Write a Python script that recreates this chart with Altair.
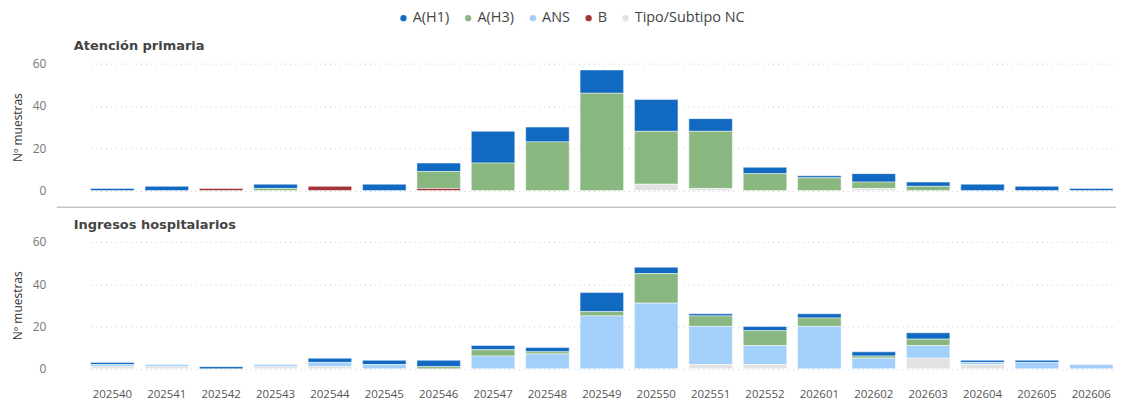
import altair as alt
import pandas as pd

weeks = ["202540", "202541", "202542", "202543", "202544", "202545", "202546",
         "202547", "202548", "202549", "202550", "202551", "202552",
         "202601", "202602", "202603", "202604", "202605", "202606"]

types = ["A(H1)", "A(H3)", "ANS", "B", "Tipo/Subtipo NC"]
colors = ["#1169C1", "#89B780", "#A3D0FA", "#A4363A", "#E2E2E2"]
stack_rank = [4, 3, 2, 1, 0]

panel_titles = ["Atención primaria", "Ingresos hospitalarios"]

# Atención primaria
ap_h1 = [1, 2, 0, 2, 0, 3, 4, 15, 7, 11, 15, 6, 3, 1, 4, 2, 3, 2, 1]
ap_h3 = [0, 0, 0, 1, 0, 0, 8, 13, 23, 46, 25, 27, 8, 6, 3, 2, 0, 0, 0]
ap_ans = [0, 0, 0, 0, 0, 0, 0, 0, 0, 0, 0, 0, 0, 0, 0, 0, 0, 0, 0]
ap_b = [0, 0, 1, 0, 2, 0, 1, 0, 0, 0, 0, 0, 0, 0, 0, 0, 0, 0, 0]
ap_nc = [0, 0, 0, 0, 0, 0, 0, 0, 0, 0, 3, 1, 0, 0, 1, 0, 0, 0, 0]

# Ingresos hospitalarios
ho_h1 = [1, 0, 1, 0, 2, 2, 3, 2, 2, 9, 3, 1, 2, 2, 2, 3, 1, 1, 0]
ho_h3 = [0, 0, 0, 0, 0, 0, 1, 3, 1, 2, 14, 5, 7, 4, 1, 3, 0, 0, 0]
ho_ans = [1, 1, 0, 1, 2, 2, 0, 6, 7, 25, 31, 18, 9, 20, 5, 6, 1, 3, 2]
ho_b = [0, 0, 0, 0, 0, 0, 0, 0, 0, 0, 0, 0, 0, 0, 0, 0, 0, 0, 0]
ho_nc = [1, 1, 0, 1, 1, 0, 0, 0, 0, 0, 0, 2, 2, 0, 0, 5, 2, 0, 0]

y_ticks = [0, 20, 40, 60]


def to_long(series_list):
    rows = []
    for t, rank, vals in zip(types, stack_rank, series_list):
        for w, v in zip(weeks, vals):
            if v > 0:
                rows.append({"Semana": w, "Tipo": t, "n": v, "orden": rank})
    return pd.DataFrame(rows)


ap_df = to_long([ap_h1, ap_h3, ap_ans, ap_b, ap_nc])
ho_df = to_long([ho_h1, ho_h3, ho_ans, ho_b, ho_nc])

W, H = 1064, 127.5
FONT = "Open Sans"

color = alt.Color(
    "Tipo:N",
    scale=alt.Scale(domain=types, range=colors),
    legend=alt.Legend(
        orient="none", legendX=341, legendY=-53, direction="horizontal",
        title=None, symbolType="circle", symbolSize=40, labelFontSize=14.5,
        labelColor="#444444", labelFont=FONT, columnPadding=11, labelOffset=2,
        symbolStrokeWidth=0,
    ),
)

yaxis = alt.Axis(
    values=y_ticks, title="Nº muestras", titleFontSize=12, titleColor="#333333",
    titleFont=FONT, titleFontWeight="normal", titlePadding=8,
    labelFontSize=12, labelColor="#777777", labelFont=FONT, labelPadding=11,
    domain=False, ticks=False, grid=True, gridDash=[1, 4], gridColor="#C8C8C8",
)


def panel(df, title, show_x):
    xaxis = alt.Axis(
        title=None, labelAngle=0, labelFontSize=11.5, labelColor="#555555",
        labelFont=FONT, domain=False, ticks=False, tickSize=0, labelPadding=20,
    ) if show_x else None
    bars = alt.Chart(df).mark_bar(stroke="white", strokeWidth=0.8, strokeOpacity=0.6).encode(
        x=alt.X("Semana:N", sort=weeks,
                scale=alt.Scale(domain=weeks, range=[34, 1061], paddingInner=0.2, paddingOuter=0),
                axis=xaxis),
        y=alt.Y("n:Q", stack="zero", scale=alt.Scale(domain=[0, 60]), axis=yaxis),
        color=color,
        order=alt.Order("orden:Q", sort="ascending"),
    )
    ttl = alt.Chart(pd.DataFrame({"t": [title]})).mark_text(
        align="left", baseline="alphabetic", font="DejaVu Sans", fontSize=13,
        fontWeight="bold", color="#444444",
    ).encode(x=alt.value(17), y=alt.value(-13.3), text="t:N")
    return bars, ttl


top_bars, top_ttl = panel(ap_df, panel_titles[0], False)
bot_bars, bot_ttl = panel(ho_df, panel_titles[1], True)

sep = alt.Chart(pd.DataFrame({"a": [0]})).mark_rule(color="#A8A8A8", strokeWidth=1).encode(
    x=alt.value(0), x2=alt.value(W), y=alt.value(-34.8)
)

top = alt.layer(top_bars, top_ttl).properties(width=W, height=H)
bottom = alt.layer(sep, bot_bars, bot_ttl).properties(width=W, height=H)

chart = alt.vconcat(top, bottom, spacing=9).properties(
    padding={"left": 3, "top": 2, "right": 5, "bottom": 0}
).configure(font=FONT).configure_view(strokeWidth=0)

chart.save("out.html", embed_options={"renderer": "svg", "actions": False})
